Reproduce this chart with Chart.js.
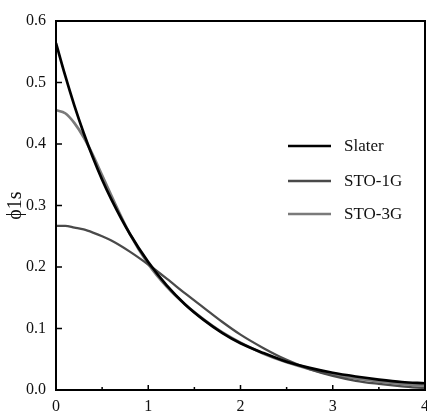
<!DOCTYPE html>
<html>
<head>
<meta charset="utf-8">
<script src="https://cdn.jsdelivr.net/npm/chart.js@4.4.1/dist/chart.umd.min.js"></script>
<style>
  html, body { margin: 0; padding: 0; background: #fff; overflow: hidden; }
  #wrap { width: 427px; height: 412px; }
</style>
</head>
<body>
<div id="wrap"><canvas id="orbitalChart" width="427" height="412"></canvas></div>
<script>
// r values (bohr) and the orbital amplitude
var rValues = [0, 0.1, 0.2, 0.3, 0.4, 0.5, 0.6, 0.8, 1.0, 1.2, 1.4, 1.6, 1.8, 2.0, 2.25, 2.5, 2.75, 3.0, 3.25, 3.5, 3.75, 4.0];
var slater = [0.564, 0.511, 0.462, 0.418, 0.378, 0.342, 0.310, 0.254, 0.208, 0.170, 0.139, 0.114, 0.093, 0.076, 0.060, 0.046, 0.036, 0.028, 0.022, 0.017, 0.013, 0.011];
var sto1g = [0.267, 0.267, 0.264, 0.261, 0.256, 0.250, 0.243, 0.225, 0.204, 0.181, 0.157, 0.134, 0.111, 0.090, 0.068, 0.049, 0.034, 0.023, 0.015, 0.010, 0.006, 0.003];
var sto3g = [0.455, 0.450, 0.434, 0.411, 0.382, 0.349, 0.316, 0.254, 0.205, 0.168, 0.139, 0.115, 0.094, 0.077, 0.059, 0.045, 0.034, 0.025, 0.019, 0.014, 0.010, 0.007];

var seriesNames = ['Slater', 'STO-1G', 'STO-3G'];
var xTickLabels = ['0', '1', '2', '3', '4'];
var yTickLabels = ['0.0', '0.1', '0.2', '0.3', '0.4', '0.5', '0.6'];

function toPoints(ys){
	var pts = [];
	for(var i in rValues){
		pts.push({x: rValues[i], y: ys[i]});
	}
	return pts;
}

var serif = "'Liberation Serif', 'DejaVu Serif', serif";

// frame, inward ticks and the legend drawn on the plot
var framePlugin = {
	id: 'frame',
	afterDatasetsDraw: function(chart){
		var ctx = chart.ctx;
		var a = chart.chartArea;
		var xs = chart.scales.x, ys = chart.scales.y;
		ctx.save();
		ctx.strokeStyle = '#000';
		ctx.lineWidth = 2;
		ctx.strokeRect(a.left, a.top, a.right - a.left, a.bottom - a.top);

		ctx.lineWidth = 1.5;
		ctx.beginPath();
		for(var v = 0; v <= 6; v++){
			var py = ys.getPixelForValue(v / 10);
			ctx.moveTo(a.left, py);
			ctx.lineTo(a.left + 6, py);
		}
		for(var k = 0; k <= 8; k++){
			var px = xs.getPixelForValue(k / 2);
			var len = (k % 2 === 0) ? 5 : 3;
			ctx.moveTo(px, a.bottom);
			ctx.lineTo(px, a.bottom - len);
		}
		ctx.stroke();

		// legend
		var rows = [146, 181, 214];
		ctx.font = '17px ' + serif;
		ctx.textBaseline = 'middle';
		ctx.fillStyle = '#111';
		chart.data.datasets.forEach(function(ds, i){
			ctx.strokeStyle = ds.borderColor;
			ctx.lineWidth = ds.borderWidth;
			ctx.beginPath();
			ctx.moveTo(288, rows[i]);
			ctx.lineTo(331, rows[i]);
			ctx.stroke();
			ctx.fillText(ds.label, 344, rows[i] + 1);
		});
		ctx.restore();
	}
};

var ctx = document.getElementById('orbitalChart');

var chart = new Chart(ctx, {
	type: 'line',
	data: {
		datasets: [
			{ label: seriesNames[0], data: toPoints(slater), borderColor: '#000000', borderWidth: 2.7 },
			{ label: seriesNames[1], data: toPoints(sto1g), borderColor: '#4a4a4a', borderWidth: 2.3 },
			{ label: seriesNames[2], data: toPoints(sto3g), borderColor: '#7a7a7a', borderWidth: 2.7 }
		]
	},
	options: {
		responsive: false,
		animation: false,
		events: [],
		layout: { padding: { top: 21, right: 2, left: 0, bottom: 0 } },
		elements: {
			point: { radius: 0 },
			line: { cubicInterpolationMode: 'monotone', fill: false }
		},
		plugins: {
			legend: { display: false },
			tooltip: { enabled: false }
		},
		scales: {
			x: {
				type: 'linear',
				min: 0,
				max: 4,
				grid: { display: false, drawTicks: false },
				border: { display: false },
				ticks: {
					stepSize: 1,
					padding: 7,
					color: '#111',
					font: { family: serif, size: 16 },
					maxRotation: 0,
					callback: function(value){ return xTickLabels[Math.round(value)]; }
				},
				afterFit: function(scale){
					scale.height = 22;
					scale.paddingLeft = 0;
					scale.paddingRight = 0;
				}
			},
			y: {
				type: 'linear',
				min: 0,
				max: 0.6,
				grid: { display: false, drawTicks: false },
				border: { display: false },
				ticks: {
					stepSize: 0.1,
					padding: 10,
					color: '#111',
					font: { family: serif, size: 16 },
					callback: function(value){ return yTickLabels[Math.round(value * 10)]; }
				},
				title: {
					display: true,
					text: '\u03d51s',
					color: '#111',
					font: { family: serif, size: 20 },
					padding: { top: 4, bottom: 0 }
				},
				afterFit: function(scale){
					scale.width = 56;
					scale.paddingTop = 0;
					scale.paddingBottom = 0;
				}
			}
		}
	},
	plugins: [framePlugin]
});
</script>
</body>
</html>
